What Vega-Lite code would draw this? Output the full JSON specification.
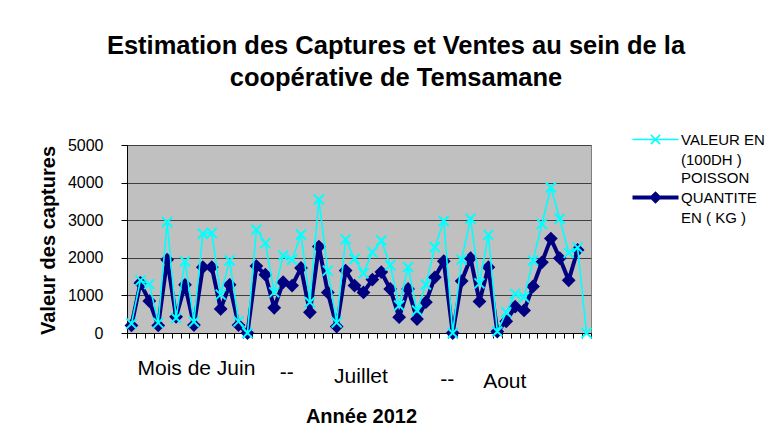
{
  "$schema": "https://vega.github.io/schema/vega-lite/v6.json",
  "autosize": {"type": "none"},
  "padding": {"left": 127, "top": 145, "right": 187, "bottom": 110},
  "width": 464,
  "height": 188,
  "background": "white",
  "title": {
    "text": ["Estimation des Captures et Ventes au sein de la", "coopérative de Temsamane"],
    "font": "Liberation Sans",
    "fontSize": 25.5,
    "fontWeight": "bold",
    "color": "black",
    "lineHeight": 32,
    "anchor": "middle",
    "frame": "group",
    "dx": 37,
    "offset": 41
  },
  "config": {
    "view": {"fill": "#C0C0C0", "stroke": "#808080", "strokeWidth": 1},
    "axis": {"labelFont": "Liberation Sans", "titleFont": "Liberation Sans", "labelColor": "black", "titleColor": "black"}
  },
  "data": {
    "values": [
      {"jour": 0, "serie": "QUANTITE", "v": 200}, {"jour": 0, "serie": "VALEUR", "v": 250},
      {"jour": 1, "serie": "QUANTITE", "v": 1330}, {"jour": 1, "serie": "VALEUR", "v": 1400},
      {"jour": 2, "serie": "QUANTITE", "v": 850}, {"jour": 2, "serie": "VALEUR", "v": 1300},
      {"jour": 3, "serie": "QUANTITE", "v": 200}, {"jour": 3, "serie": "VALEUR", "v": 270},
      {"jour": 4, "serie": "QUANTITE", "v": 1950}, {"jour": 4, "serie": "VALEUR", "v": 2950},
      {"jour": 5, "serie": "QUANTITE", "v": 430}, {"jour": 5, "serie": "VALEUR", "v": 400},
      {"jour": 6, "serie": "QUANTITE", "v": 1280}, {"jour": 6, "serie": "VALEUR", "v": 1900},
      {"jour": 7, "serie": "QUANTITE", "v": 210}, {"jour": 7, "serie": "VALEUR", "v": 300},
      {"jour": 8, "serie": "QUANTITE", "v": 1750}, {"jour": 8, "serie": "VALEUR", "v": 2640},
      {"jour": 9, "serie": "QUANTITE", "v": 1750}, {"jour": 9, "serie": "VALEUR", "v": 2660},
      {"jour": 10, "serie": "QUANTITE", "v": 640}, {"jour": 10, "serie": "VALEUR", "v": 1020},
      {"jour": 11, "serie": "QUANTITE", "v": 1280}, {"jour": 11, "serie": "VALEUR", "v": 1930},
      {"jour": 12, "serie": "QUANTITE", "v": 210}, {"jour": 12, "serie": "VALEUR", "v": 310},
      {"jour": 13, "serie": "QUANTITE", "v": 0}, {"jour": 13, "serie": "VALEUR", "v": 0},
      {"jour": 14, "serie": "QUANTITE", "v": 1780}, {"jour": 14, "serie": "VALEUR", "v": 2750},
      {"jour": 15, "serie": "QUANTITE", "v": 1550}, {"jour": 15, "serie": "VALEUR", "v": 2390},
      {"jour": 16, "serie": "QUANTITE", "v": 670}, {"jour": 16, "serie": "VALEUR", "v": 1080},
      {"jour": 17, "serie": "QUANTITE", "v": 1350}, {"jour": 17, "serie": "VALEUR", "v": 2060},
      {"jour": 18, "serie": "QUANTITE", "v": 1260}, {"jour": 18, "serie": "VALEUR", "v": 1950},
      {"jour": 19, "serie": "QUANTITE", "v": 1730}, {"jour": 19, "serie": "VALEUR", "v": 2620},
      {"jour": 20, "serie": "QUANTITE", "v": 550}, {"jour": 20, "serie": "VALEUR", "v": 820},
      {"jour": 21, "serie": "QUANTITE", "v": 2300}, {"jour": 21, "serie": "VALEUR", "v": 3550},
      {"jour": 22, "serie": "QUANTITE", "v": 1080}, {"jour": 22, "serie": "VALEUR", "v": 1660},
      {"jour": 23, "serie": "QUANTITE", "v": 170}, {"jour": 23, "serie": "VALEUR", "v": 280},
      {"jour": 24, "serie": "QUANTITE", "v": 1660}, {"jour": 24, "serie": "VALEUR", "v": 2490},
      {"jour": 25, "serie": "QUANTITE", "v": 1260}, {"jour": 25, "serie": "VALEUR", "v": 1970},
      {"jour": 26, "serie": "QUANTITE", "v": 1080}, {"jour": 26, "serie": "VALEUR", "v": 1590},
      {"jour": 27, "serie": "QUANTITE", "v": 1420}, {"jour": 27, "serie": "VALEUR", "v": 2150},
      {"jour": 28, "serie": "QUANTITE", "v": 1620}, {"jour": 28, "serie": "VALEUR", "v": 2460},
      {"jour": 29, "serie": "QUANTITE", "v": 1170}, {"jour": 29, "serie": "VALEUR", "v": 1800},
      {"jour": 30, "serie": "QUANTITE", "v": 420}, {"jour": 30, "serie": "VALEUR", "v": 730},
      {"jour": 31, "serie": "QUANTITE", "v": 1170}, {"jour": 31, "serie": "VALEUR", "v": 1750},
      {"jour": 32, "serie": "QUANTITE", "v": 370}, {"jour": 32, "serie": "VALEUR", "v": 600},
      {"jour": 33, "serie": "QUANTITE", "v": 820}, {"jour": 33, "serie": "VALEUR", "v": 1290},
      {"jour": 34, "serie": "QUANTITE", "v": 1480}, {"jour": 34, "serie": "VALEUR", "v": 2280},
      {"jour": 35, "serie": "QUANTITE", "v": 1910}, {"jour": 35, "serie": "VALEUR", "v": 2980},
      {"jour": 36, "serie": "QUANTITE", "v": 0}, {"jour": 36, "serie": "VALEUR", "v": 0},
      {"jour": 37, "serie": "QUANTITE", "v": 1380}, {"jour": 37, "serie": "VALEUR", "v": 1950},
      {"jour": 38, "serie": "QUANTITE", "v": 1990}, {"jour": 38, "serie": "VALEUR", "v": 3040},
      {"jour": 39, "serie": "QUANTITE", "v": 840}, {"jour": 39, "serie": "VALEUR", "v": 1320},
      {"jour": 40, "serie": "QUANTITE", "v": 1750}, {"jour": 40, "serie": "VALEUR", "v": 2610},
      {"jour": 41, "serie": "QUANTITE", "v": 40}, {"jour": 41, "serie": "VALEUR", "v": 40},
      {"jour": 42, "serie": "QUANTITE", "v": 310}, {"jour": 42, "serie": "VALEUR", "v": 550},
      {"jour": 43, "serie": "QUANTITE", "v": 700}, {"jour": 43, "serie": "VALEUR", "v": 1040},
      {"jour": 44, "serie": "QUANTITE", "v": 600}, {"jour": 44, "serie": "VALEUR", "v": 950},
      {"jour": 45, "serie": "QUANTITE", "v": 1240}, {"jour": 45, "serie": "VALEUR", "v": 1930},
      {"jour": 46, "serie": "QUANTITE", "v": 1880}, {"jour": 46, "serie": "VALEUR", "v": 2900},
      {"jour": 47, "serie": "QUANTITE", "v": 2510}, {"jour": 47, "serie": "VALEUR", "v": 3870},
      {"jour": 48, "serie": "QUANTITE", "v": 1990}, {"jour": 48, "serie": "VALEUR", "v": 3040},
      {"jour": 49, "serie": "QUANTITE", "v": 1400}, {"jour": 49, "serie": "VALEUR", "v": 2130},
      {"jour": 50, "serie": "QUANTITE", "v": 2210}, {"jour": 50, "serie": "VALEUR", "v": 2270},
      {"jour": 51, "serie": "VALEUR", "v": 0}
    ]
  },
  "encoding": {
    "x": {
      "field": "jour",
      "type": "ordinal",
      "bandPosition": 0.5,
      "scale": {"type": "band", "paddingInner": 0, "paddingOuter": 0},
      "axis": {
        "title": "Année 2012",
        "titleFontSize": 20,
        "titleFontWeight": "bold",
        "titleX": 234,
        "titleY": 89,
        "titleAlign": "center",
        "titleBaseline": "alphabetic",
        "labelAngle": 0,
        "labelFontSize": 21,
        "labelOverlap": false,
        "labelBound": false,
        "labelFlush": false,
        "labelLimit": 300,
        "labelExpr": "datum.value == 7 ? 'Mois de Juin' : datum.value == 17 ? '--' : datum.value == 26 ? 'Juillet' : datum.value == 35 ? '--' : datum.value == 42 ? 'Aout' : ''",
        "labelPadding": {"condition": [
          {"test": "datum.value == 7", "value": 19},
          {"test": "datum.value == 17", "value": 23},
          {"test": "datum.value == 26", "value": 27},
          {"test": "datum.value == 35", "value": 30}
        ], "value": 32},
        "labelOffset": {"condition": [
          {"test": "datum.value == 7", "value": 2},
          {"test": "datum.value == 17", "value": 3},
          {"test": "datum.value == 26", "value": -3},
          {"test": "datum.value == 35", "value": 3}
        ], "value": -2},
        "tickBand": "extent",
        "tickSize": 5,
        "tickColor": "black",
        "domainColor": "black",
        "grid": false
      }
    },
    "y": {
      "field": "v",
      "type": "quantitative",
      "scale": {"domain": [0, 5000], "nice": false},
      "axis": {
        "title": "Valeur des captures",
        "titleFontSize": 20,
        "titleFontWeight": "bold",
        "titleAngle": 270,
        "titleX": -73,
        "titleY": 95,
        "titleAlign": "center",
        "titleBaseline": "alphabetic",
        "values": [0, 1000, 2000, 3000, 4000, 5000],
        "format": "d",
        "labelFontSize": 16,
        "labelPadding": 18,
        "tickSize": 6,
        "tickColor": "black",
        "domainColor": "black",
        "gridColor": "#404040",
        "gridWidth": 1
      }
    },
    "color": {
      "field": "serie",
      "type": "nominal",
      "scale": {"domain": ["VALEUR", "QUANTITE"], "range": ["#00FFFF", "#000080"]},
      "legend": {
        "title": null,
        "orient": "none",
        "legendX": 521,
        "legendY": -13,
        "padding": 0,
        "rowPadding": 2,
        "symbolSize": 2116,
        "symbolType": "M-1,0L1,0",
        "labelFont": "Liberation Sans",
        "labelFontSize": 15,
        "labelColor": "black",
        "labelLimit": 400,
        "labelOffset": 18,
        "labelExpr": "datum.value == 'VALEUR' ? [' VALEUR EN', '(100DH )'] : ['POISSON', 'QUANTITE', 'EN ( KG )']",
        "encode": {
          "labels": {"update": {
            "lineHeight": {"value": 20},
            "dy": {"signal": "datum.value == 'VALEUR' ? 0 : -20"}
          }},
          "symbols": {"update": {
            "shape": {"signal": "datum.value == 'VALEUR' ? 'M-1,0L1,0M-0.2,-0.2L0.2,0.2M-0.2,0.2L0.2,-0.2' : 'M-1,0L1,0M-0.15,0L0,-0.15L0.15,0L0,0.15Z'"},
            "strokeWidth": {"signal": "datum.value == 'VALEUR' ? 1.5 : 4"},
            "stroke": {"signal": "datum.value == 'VALEUR' ? '#00FFFF' : '#000080'"},
            "fill": {"signal": "datum.value == 'VALEUR' ? '#00FFFF' : '#000080'"},
            "opacity": {"value": 1}
          }}
        }
      }
    }
  },
  "layer": [
    {
      "transform": [{"filter": "datum.serie == 'QUANTITE'"}],
      "mark": {"type": "line", "strokeWidth": 4}
    },
    {
      "transform": [{"filter": "datum.serie == 'QUANTITE'"}],
      "mark": {"type": "point", "shape": "diamond", "filled": true, "size": 190, "opacity": 1}
    },
    {
      "transform": [{"filter": "datum.serie == 'VALEUR'"}],
      "mark": {"type": "line", "strokeWidth": 1.6}
    },
    {
      "transform": [{"filter": "datum.serie == 'VALEUR'"}],
      "mark": {"type": "point", "shape": "M-1,-1L1,1M-1,1L1,-1", "filled": false, "size": 100, "strokeWidth": 2, "opacity": 1}
    }
  ]
}
